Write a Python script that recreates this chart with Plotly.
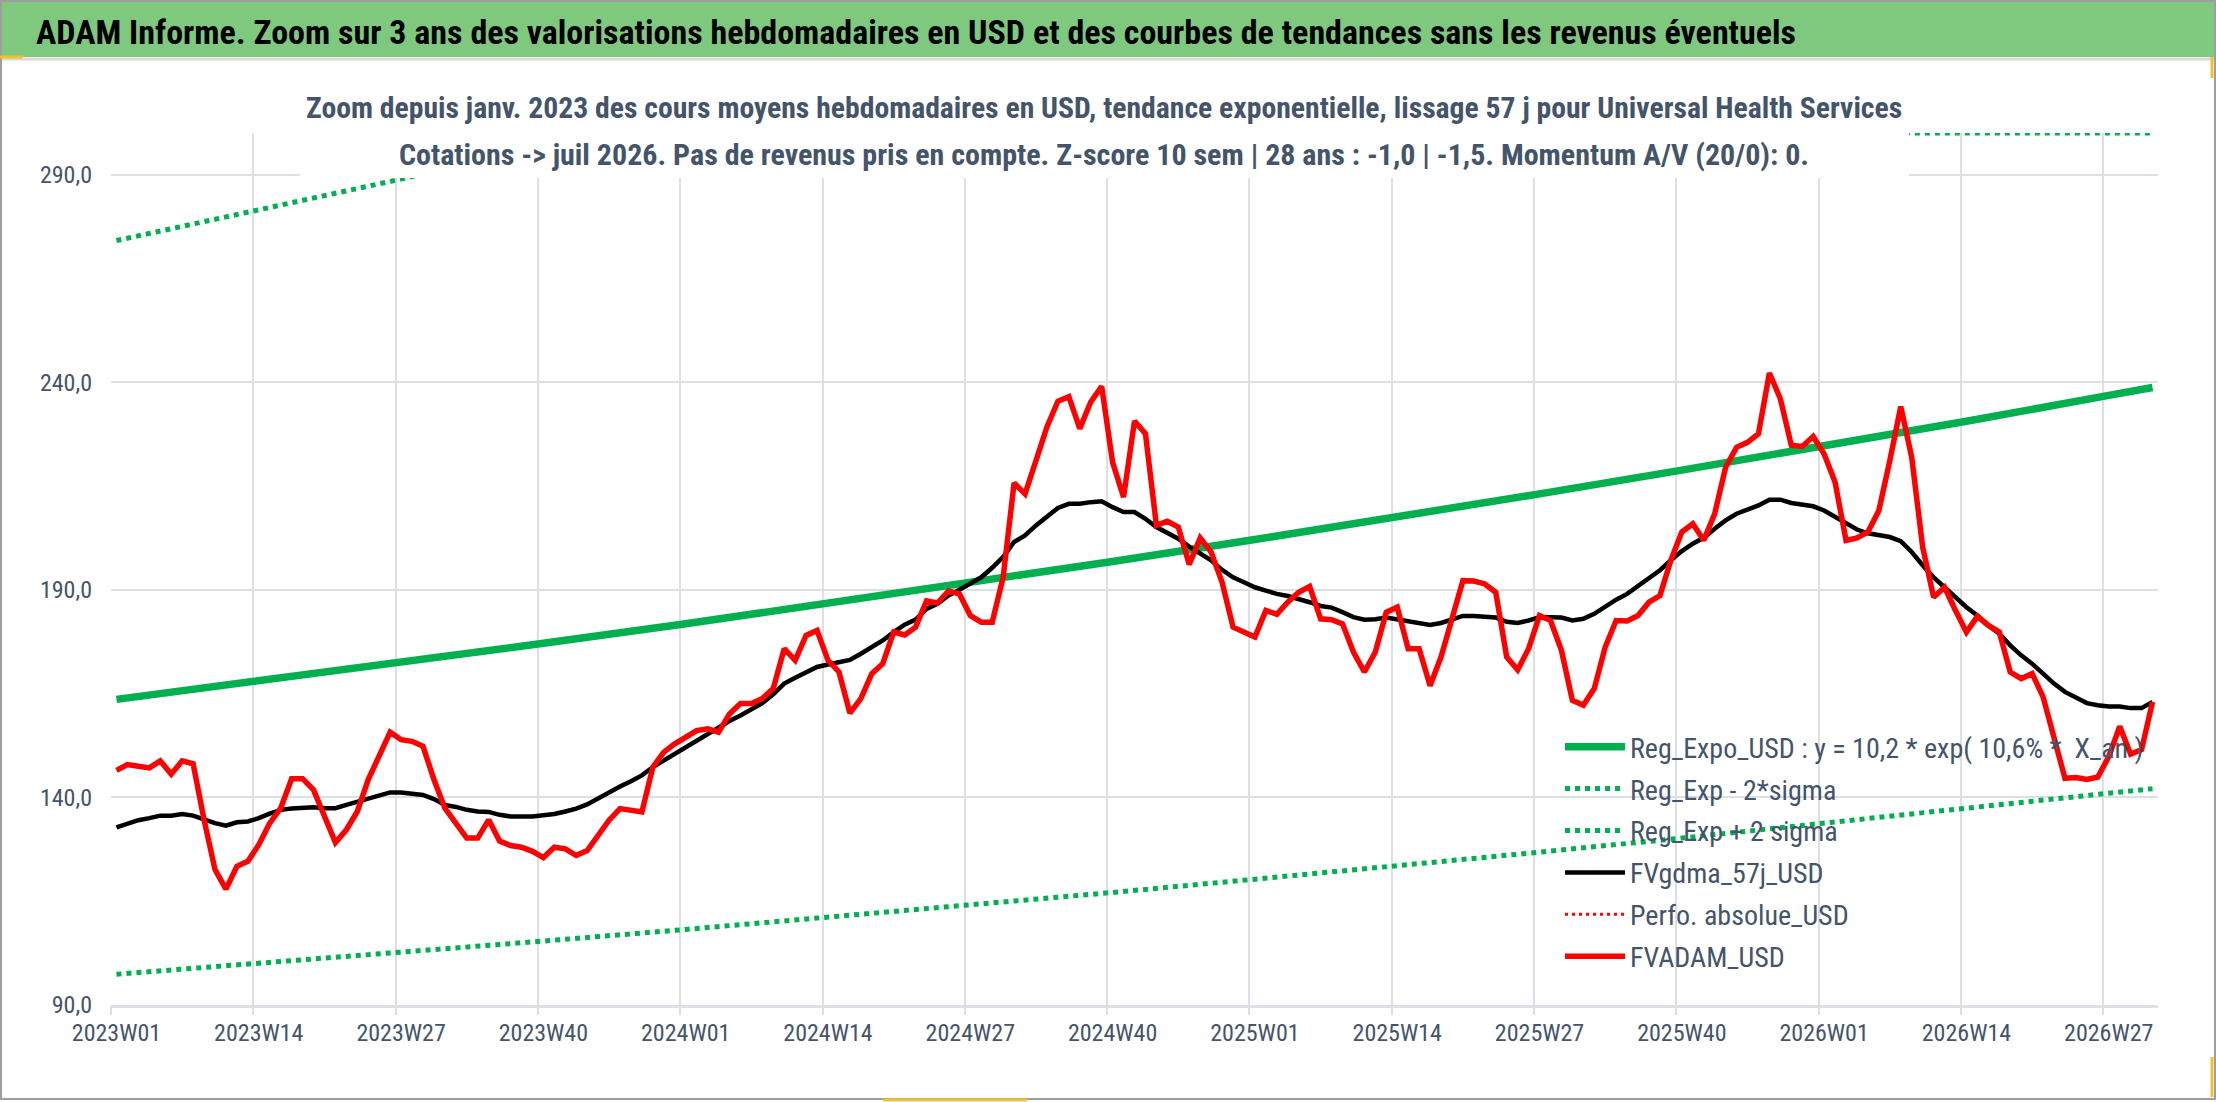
import plotly.graph_objects as go

FIG_W, FIG_H = 2216, 1102
L, R, T, B = 111, 2158, 133, 1005          # plot area in pixels
PW, PH = R - L, B - T

def px(x):  # pixel -> paper x
    return (x - L) / PW

def py(y):  # pixel -> paper y
    return (B - y) / PH

# ---------------- data ----------------
weeks = [f"{yr}W{w:02d}" for yr, n in [(2023, 52), (2024, 52), (2025, 52), (2026, 31)] for w in range(1, n + 1)]

tick_labels = ["2023W01", "2023W14", "2023W27", "2023W40", "2024W01", "2024W14", "2024W27",
               "2024W40", "2025W01", "2025W14", "2025W27", "2025W40", "2026W01", "2026W14", "2026W27"]

trend_weeks = tick_labels + ["2026W31"]
reg_expo = [163.6, 168.0, 172.5, 177.1, 181.8, 186.7, 191.7, 196.8, 202.1, 207.5, 213.1,
            218.8, 224.6, 230.6, 236.8, 238.7]
reg_low = [97.4, 100.0, 102.7, 105.4, 108.2, 111.1, 114.1, 117.1, 120.3, 123.5, 126.8,
           130.2, 133.7, 137.3, 141.0, 142.1]
upper_weeks = ["2023W01", "2023W14", "2023W27", "2023W40", "2023W46", "2026W31"]
reg_high = [274.1, 281.4, 288.9, 296.6, 300.0, 300.0]

fvadam = [
    146.5, 147.9, 147.5, 147.1, 148.8, 145.6, 148.8, 148.1, 134.6, 122.6,
    117.9, 123.4, 124.6, 128.6, 133.8, 137.4, 144.5, 144.5, 141.8, 135.4,
    129.1, 132.2, 136.6, 144.3, 149.9, 155.7, 153.9, 153.5, 152.3, 144.3,
    137.4, 133.8, 130.2, 130.2, 134.6, 129.5,
    128.4, 128.0, 127.0, 125.5, 128.0, 127.6, 126.0, 127.2, 130.8, 134.5,
    137.3, 137.0, 136.5, 147.3, 150.9, 152.9, 154.5, 156.1, 156.5, 155.7,
    160.1, 162.6, 162.6, 163.8, 166.2, 175.8, 173.0, 179.0, 180.2, 173.0,
    170.2, 160.3, 163.8, 169.8, 172.2, 179.8, 179.1,
    181.0, 187.3, 186.8, 189.7, 189.0, 183.8, 182.2, 182.2, 193.0, 215.7,
    213.1, 221.1, 229.2, 235.4, 236.5, 228.8, 235.2, 239.0, 220.7, 212.3,
    230.6, 227.6, 205.5, 206.5, 205.1, 196.1, 202.5, 199.1, 191.8, 181.0,
    179.8, 178.6, 185.0, 184.1, 187.0, 189.4, 190.8, 183.0,
    182.8, 181.8, 175.0, 170.2, 175.0, 184.6, 185.8, 175.8, 175.8, 166.9,
    173.8, 182.6, 192.2, 192.1, 191.4, 189.4, 173.8, 170.7, 175.8, 183.8,
    182.6, 175.4, 163.4, 162.2, 166.2, 176.2, 182.6, 182.5, 183.8, 187.0,
    188.6, 197.1, 203.9, 205.9, 201.9, 208.3, 219.5, 224.3, 225.5,
    227.6, 242.2, 236.0, 224.8, 224.5, 226.9, 222.7, 215.9, 201.9, 202.5,
    203.9, 209.1, 221.1, 234.1, 221.9, 200.3, 188.2, 190.6, 185.0, 179.8,
    183.6, 181.4, 179.8, 170.2, 168.6, 169.8, 164.2, 154.6, 144.6, 144.8,
    144.3, 144.9, 149.8, 157.1, 150.4, 151.5, 163.0,
]

fvgdma = [
    132.8, 133.6, 134.5, 135.0, 135.6, 135.6, 136.0, 135.6, 134.6, 133.8,
    133.2, 134.0, 134.2, 135.0, 136.1, 137.0, 137.3, 137.4, 137.6, 137.4,
    137.4, 138.2, 139.0, 139.8, 140.4, 141.2, 141.2, 141.0, 140.6, 139.6,
    138.2, 137.7, 137.0, 136.6, 136.5, 135.8,
    135.4, 135.4, 135.4, 135.7, 136.0, 136.6, 137.3, 138.3, 139.8, 141.3,
    142.6, 143.9, 145.3, 147.3, 148.9, 150.5, 152.1, 153.7, 155.3, 156.8,
    158.4, 159.7, 161.2, 162.7, 164.8, 167.4, 168.8, 170.2, 171.4, 172.0,
    172.6, 173.1, 174.6, 176.2, 177.8, 179.8, 181.6,
    182.8, 185.4, 186.6, 188.6, 190.0, 191.6, 193.0, 195.3, 197.9, 201.5,
    203.1, 205.5, 207.7, 209.7, 210.7, 210.7, 211.1, 211.3, 209.9, 208.7,
    208.7, 207.1, 205.1, 203.6, 202.3, 200.4, 198.8, 197.1, 194.8, 193.0,
    191.8, 190.6, 189.8, 189.0, 188.5, 187.8, 187.0, 186.1,
    185.7, 184.6, 183.4, 182.8, 182.9, 183.3, 182.9, 182.3, 182.0, 181.5,
    182.0, 182.9, 183.7, 183.7, 183.6, 183.3, 182.3, 182.0, 182.6, 183.4,
    183.4, 183.3, 182.6, 183.0, 184.2, 186.0, 187.6, 189.0, 190.8, 192.6,
    194.7, 197.1, 199.3, 201.1, 202.5, 204.7, 206.7, 208.3, 209.3,
    210.3, 211.7, 211.7, 210.9, 210.5, 210.1, 209.1, 207.5, 205.9, 204.5,
    203.6, 203.2, 202.7, 201.7, 199.1, 195.9, 193.0, 190.6, 188.2, 185.8,
    183.8, 181.4, 179.4, 176.6, 174.2, 172.2, 169.8, 167.4, 165.4, 164.0,
    162.7, 162.2, 161.9, 161.9, 161.5, 161.5, 163.0,
]

# Perfo. absolue_USD appears only in the legend (no visible values)
perfo_weeks = ["2023W01"]
perfo_abs = [None]

TITLE = ("ADAM Informe. Zoom sur 3 ans des valorisations hebdomadaires en USD et des courbes "
         "de tendances sans les revenus éventuels")
SUB1 = ("Zoom depuis janv. 2023 des cours moyens hebdomadaires en USD, tendance exponentielle, "
        "lissage 57 j pour Universal Health Services")
SUB2 = "Cotations -> juil 2026. Pas de revenus pris en compte. Z-score 10 sem | 28 ans : -1,0 | -1,5. Momentum A/V (20/0): 0."

# ---------------- style ----------------
FONT = "Liberation Sans Narrow, Arial Narrow, Roboto Condensed, sans-serif"
SLATE = "#44546A"
GRID = "#DCDFE5"
GREEN = "#00B050"
DOT = "5px,5px"
N = len(weeks)

fig = go.Figure()
fig.add_trace(go.Scatter(x=trend_weeks, y=reg_expo, mode="lines", legendgroup="g1",
                         name="Reg_Expo_USD : y = 10,2 * exp( 10,6% *  X_an )",
                         line=dict(color=GREEN, width=7.5)))
fig.add_trace(go.Scatter(x=trend_weeks, y=reg_low, mode="lines", name="Reg_Exp - 2*sigma",
                         legendgroup="g2", line=dict(color=GREEN, width=5, dash=DOT)))
fig.add_trace(go.Scatter(x=upper_weeks, y=reg_high, mode="lines", name="Reg_Exp + 2 sigma",
                         legendgroup="g3", line=dict(color=GREEN, width=5, dash=DOT)))
fig.add_trace(go.Scatter(x=weeks, y=fvgdma, mode="lines", name="FVgdma_57j_USD",
                         legendgroup="g4", line=dict(color="#000000", width=4.5)))
fig.add_trace(go.Scatter(x=perfo_weeks, y=perfo_abs, mode="lines", name="Perfo. absolue_USD",
                         legendgroup="g5", line=dict(color="#FF0000", width=3, dash="3px,4px")))
fig.add_trace(go.Scatter(x=weeks, y=fvadam, mode="lines", name="FVADAM_USD",
                         legendgroup="g6", line=dict(color="#FF0000", width=5.5)))
# empty helper trace so that the week-boundary grid axis is drawn
fig.add_trace(go.Scatter(x=[None], y=[None], xaxis="x2", yaxis="y", mode="lines",
                         legendgroup="g7", showlegend=False, hoverinfo="skip"))

shapes = [
    # green banner
    dict(type="rect", xref="paper", yref="paper", x0=px(0), x1=px(FIG_W), y0=py(57), y1=py(0),
         fillcolor="#7FC97F", line=dict(width=0), layer="below"),
    dict(type="line", xref="paper", yref="paper", x0=px(0), x1=px(FIG_W), y0=py(59), y1=py(59),
         line=dict(color="#D9D9D9", width=3)),
    # white box behind the chart title
    dict(type="rect", xref="paper", yref="paper", x0=px(300), x1=px(1909), y0=py(178), y1=py(64),
         fillcolor="#FFFFFF", line=dict(width=0), layer="above"),
    # outer frame
    dict(type="rect", xref="paper", yref="paper", x0=px(1), x1=px(FIG_W - 1), y0=py(FIG_H - 3), y1=py(1),
         fillcolor="rgba(0,0,0,0)", line=dict(color="#9E9E9E", width=2)),
    # selection handles
    dict(type="line", xref="paper", yref="paper", x0=px(0), x1=px(23), y0=py(57), y1=py(57),
         line=dict(color="#F2C12E", width=3)),
    dict(type="line", xref="paper", yref="paper", x0=px(2212), x1=px(2212), y0=py(57), y1=py(78),
         line=dict(color="#F2C12E", width=3)),
    dict(type="line", xref="paper", yref="paper", x0=px(2212), x1=px(2212), y0=py(1057), y1=py(1097),
         line=dict(color="#F2C12E", width=3)),
    dict(type="line", xref="paper", yref="paper", x0=px(883), x1=px(1027), y0=py(1100), y1=py(1100),
         line=dict(color="#F2C12E", width=3)),
]

annotations = [
    dict(text=f"<b>{TITLE}</b>", xref="paper", yref="paper", x=px(34), y=py(32),
         xanchor="left", yanchor="middle", showarrow=False,
         font=dict(family=FONT, size=34, color="#000000")),
    dict(text=f"<b>{SUB1}</b>", xref="paper", yref="paper", x=px(1104), y=py(107),
         xanchor="center", yanchor="middle", showarrow=False,
         font=dict(family=FONT, size=29.7, color=SLATE)),
    dict(text=f"<b>{SUB2}</b>", xref="paper", yref="paper", x=px(1104), y=py(154),
         xanchor="center", yanchor="middle", showarrow=False,
         font=dict(family=FONT, size=30, color=SLATE)),
]

fig.update_layout(
    width=FIG_W, height=FIG_H,
    margin=dict(l=L, r=FIG_W - R, t=T, b=FIG_H - B, pad=0),
    paper_bgcolor="#FFFFFF", plot_bgcolor="#FFFFFF",
    separators=", ",
    font=dict(family=FONT, color=SLATE),
    shapes=shapes, annotations=annotations,
    showlegend=True,
    legend=dict(x=px(1560), y=py(722), xanchor="left", yanchor="top",
                bgcolor="rgba(0,0,0,0)", borderwidth=0,
                font=dict(family=FONT, size=28, color=SLATE),
                itemwidth=60, tracegroupgap=2.5, traceorder="grouped"),
    # category axis: labels at week centres
    xaxis=dict(type="category", categoryorder="array", categoryarray=weeks,
               range=[-0.5, N - 0.5],
               tickmode="array", tickvals=tick_labels, ticktext=tick_labels, tickangle=0,
               ticks="", showgrid=False,
               showline=True, linecolor=GRID, linewidth=3,
               tickfont=dict(family=FONT, size=24, color=SLATE),
               ticklabelstandoff=4, zeroline=False),
    # overlay axis carrying the gridlines/tick marks on the week boundaries
    xaxis2=dict(overlaying="x", anchor="y", side="bottom", range=[-0.5, N - 0.5],
                tickmode="linear", tick0=-0.5, dtick=13, showticklabels=False,
                ticks="outside", ticklen=9, tickcolor=GRID, tickwidth=2,
                showgrid=True, gridcolor=GRID, gridwidth=2, zeroline=False, showline=False),
    yaxis=dict(range=[90, 300], tickmode="linear", tick0=90, dtick=50, tickformat=".1f",
               showgrid=True, gridcolor=GRID, gridwidth=2, zeroline=False, showline=False,
               ticks="", tickfont=dict(family=FONT, size=24, color=SLATE),
               ticklabelstandoff=18),
)

fig.write_html("out.html", config={"displayModeBar": False},
               post_script="document.body.style.margin='0px';document.body.style.overflow='hidden';")
